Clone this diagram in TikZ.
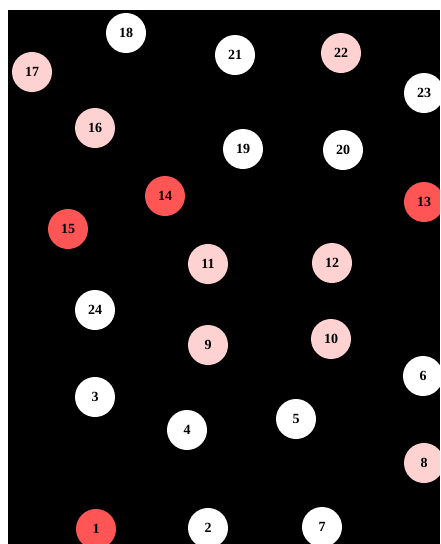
\documentclass[tikz,border=0pt]{standalone}
\usepackage{fontspec}
\setmainfont{Liberation Serif}
\definecolor{hot}{HTML}{FF5555}
\definecolor{warm}{HTML}{FFD2D2}
\begin{document}
\begin{tikzpicture}[x=1pt,y=-1pt,
  vtx/.style={circle,minimum size=40pt,inner sep=0pt,font=\fontsize{14}{14}\selectfont\bfseries,text=black},
  plain/.style={vtx,fill=white},
  pinkv/.style={vtx,fill=warm},
  redv/.style={vtx,fill=hot}]
\useasboundingbox (0,0) rectangle (440,544);
\fill[white] (0,0) rectangle (440,544);
\fill[black] (8,10) rectangle (440,544);
\clip (8,10) rectangle (440,544);
\node[plain] (n18) at (126,33) {18};
\node[pinkv] (n17) at (32,72) {17};
\node[plain] (n21) at (235,55) {21};
\node[pinkv] (n22) at (341,53) {22};
\node[plain] (n23) at (424,93) {23};
\node[pinkv] (n16) at (95,128) {16};
\node[plain] (n19) at (243,149) {19};
\node[plain] (n20) at (343,150) {20};
\node[redv] (n14) at (165,196) {14};
\node[redv] (n13) at (424,202) {13};
\node[redv] (n15) at (68,229) {15};
\node[pinkv] (n11) at (208,264) {11};
\node[pinkv] (n12) at (332,263) {12};
\node[plain] (n24) at (95,310) {24};
\node[pinkv] (n9) at (208,345) {9};
\node[pinkv] (n10) at (331,339) {10};
\node[plain] (n6) at (423,376) {6};
\node[plain] (n3) at (95,397) {3};
\node[plain] (n4) at (187,430) {4};
\node[plain] (n5) at (296,419) {5};
\node[pinkv] (n8) at (424,463) {8};
\node[redv] (n1) at (96,529) {1};
\node[plain] (n2) at (208,528) {2};
\node[plain] (n7) at (322,527) {7};
\end{tikzpicture}
\end{document}
